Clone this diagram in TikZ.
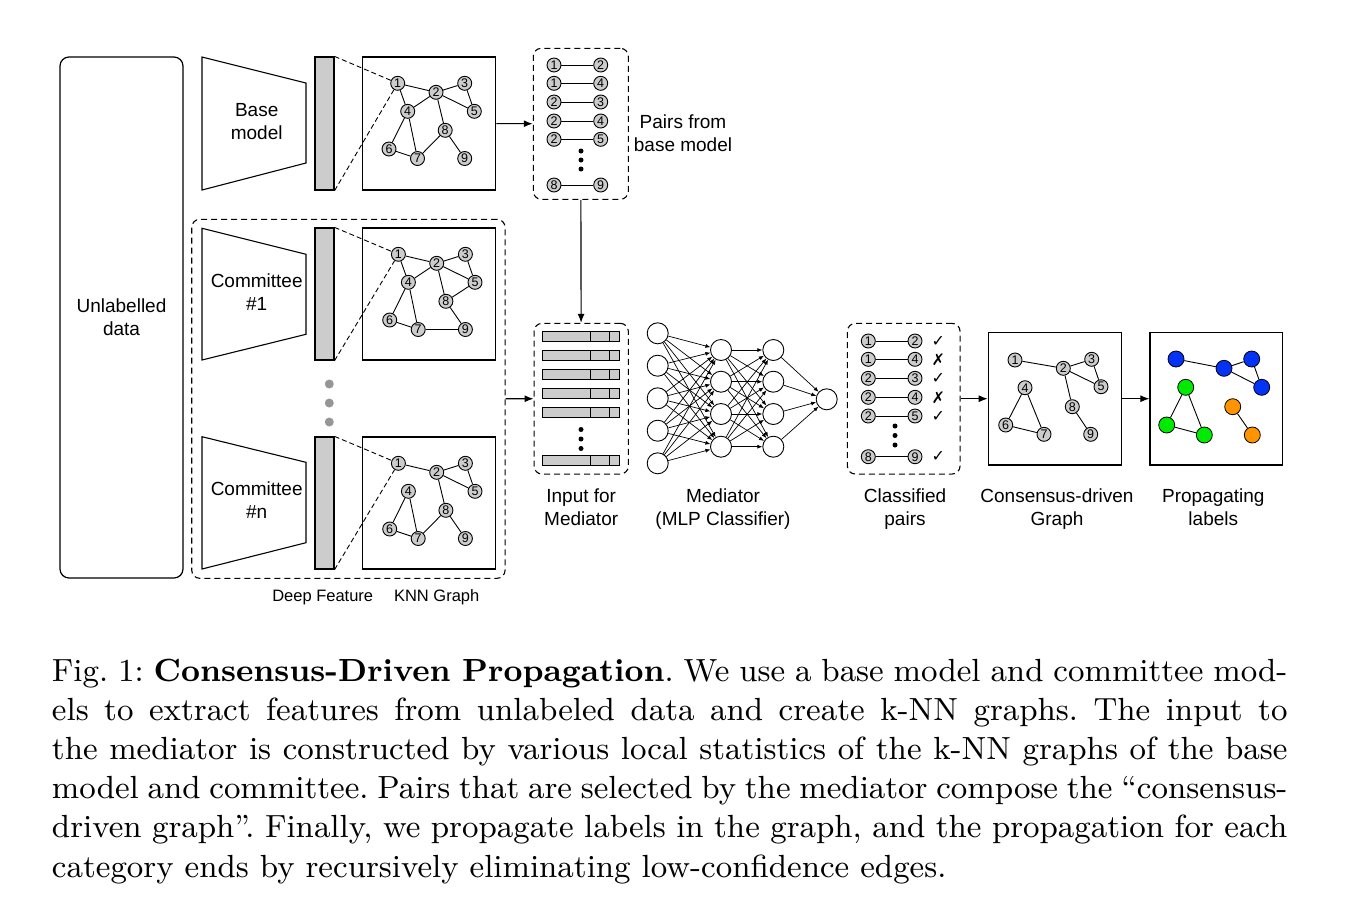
\documentclass[tikz,border=0pt]{standalone}
\usepackage{fontspec}
\newfontfamily\diagfont{Liberation Sans}
\newfontfamily\symbfont{DejaVu Sans}
\usetikzlibrary{positioning,arrows.meta}
\definecolor{nodegray}{RGB}{204,204,204}
\definecolor{dotgray}{RGB}{150,150,150}
\definecolor{propblue}{RGB}{5,51,245}
\definecolor{propgreen}{RGB}{0,235,0}
\definecolor{proporange}{RGB}{255,147,0}
\tikzset{%
  knn node/.style={
    circle,
    draw,
    fill=nodegray,
    line width=0.9pt,
    inner sep=0pt,
    minimum size=14pt,
    font=\diagfont\fontsize{12.5}{12.5}\selectfont
  },
  prop node/.style={circle, draw, line width=0.8pt, inner sep=0pt, minimum size=16pt},
  mlp node/.style={circle, draw, line width=0.9pt, inner sep=0pt, minimum size=21pt},
  plain box/.style={draw, line width=1.2pt, inner sep=0pt},
  dash frame/.style={draw, line width=1.1pt, dash pattern=on 6pt off 4pt, rounded corners=8pt, inner sep=0pt},
  feature bar/.style={draw, fill=nodegray, line width=1.2pt, minimum width=19pt, inner sep=0pt},
  box text/.style={font=\diagfont\fontsize{19}{23}\selectfont, align=center, inner sep=0pt},
  small text/.style={font=\diagfont\fontsize{16.5}{20}\selectfont, inner sep=0pt},
  tick sign/.style={font=\symbfont\fontsize{16}{16}\selectfont, inner sep=0pt},
  graph edge/.style={line width=0.9pt},
  feature link/.style={line width=0.9pt, dash pattern=on 5pt off 3pt},
  mlp arrow/.style={-{Latex[length=5pt,width=4pt]}, line width=0.7pt},
  caption text/.style={
    scale=3.5596,
    transform shape,
    text width=347.1pt,
    align=justify,
    inner sep=0pt,
    font=\fontsize{9}{11}\selectfont\frenchspacing
  },
}
% one kNN graph: prefix, shift, edges
\newcommand{\knngraph}[3]{%
  \begin{scope}[shift={#2}]
    \foreach \n/\x/\y in {1/35.7/26.3, 2/74/35.3, 3/102.7/26.3, 4/45.7/54.3, 5/112.3/54.3,
                          6/27/92, 7/55.5/101.5, 8/83.2/73.3, 9/102.7/101.5}
      \node[knn node] (#1\n) at (\x,\y) {\n};
  \end{scope}
  \foreach \a/\b in {#3} \draw[graph edge] (#1\a) -- (#1\b);
}

\begin{document}
\begin{tikzpicture}[x=1pt,y=-1pt,>={Latex[length=9pt,width=7pt]},line width=1.1pt]
        \useasboundingbox (0,0) rectangle (1346,922);

        % data and base model
        \node[plain box, box text, rounded corners=9pt, minimum width=123pt, minimum height=521pt] (data) at (121.5,317.5) {Unlabelled\\data};

        \draw (202,57) -- (306,83) -- (306,163) -- (202,190) -- cycle;
        \node[box text] (base) at (256.7,121.5) {Base\\model};
        \node[feature bar, minimum height=133pt] (base bar) at (324.5,123.5) {};
        \node[plain box, minimum width=133.5pt, minimum height=133pt] (base knn) at (429,123.5) {};
        \knngraph{b}{(362,57)}{1/2,1/4,2/4,2/3,3/5,2/5,2/8,4/6,4/7,6/7,7/8,8/9}
        \draw[feature link] (base bar.north east) -- (b1);
        \draw[feature link] (base bar.south east) -- (b1);

        % committee
        \node[dash frame, minimum width=313.3pt, minimum height=359pt] (committee) at (348.4,398.8) {};

        \draw (202,228.3) -- (306,254.3) -- (306,334.3) -- (202,360) -- cycle;
        \node[box text] (com one) at (256.7,292.2) {Committee\\\#1};
        \node[feature bar, minimum height=132pt] (com one bar) at (324.5,294) {};
        \node[plain box, minimum width=133pt, minimum height=132pt] (com one knn) at (429.2,294) {};
        \knngraph{c}{(362.7,228)}{1/2,1/4,2/3,2/5,3/5,2/4,2/8,5/8,4/6,4/7,6/7,7/9,8/9}
        \draw[feature link] (com one bar.north east) -- (c1);
        \draw[feature link] (com one bar.south east) -- (c1);

        \foreach \y in {384,403,422} \fill[dotgray] (329.3,\y) circle (4.5);

        \draw (202,436.7) -- (306,462.3) -- (306,542.7) -- (202,569) -- cycle;
        \node[box text] (com n) at (256.7,500.3) {Committee\\\#n};
        \node[feature bar, minimum height=132pt] (com n bar) at (324.5,503) {};
        \node[plain box, minimum width=133pt, minimum height=132pt] (com n knn) at (429.2,503) {};
        \knngraph{n}{(362.7,437)}{1/2,2/3,2/5,3/5,2/8,7/8,8/9,6/7,4/6,4/7}
        \draw[feature link] (com n bar.north east) -- (n1);
        \draw[feature link] (com n bar.south east) -- (n1);

        \node[small text] (deep label) at (322.7,597.5) {Deep Feature};
        \node[small text] (knn label) at (436.7,597.5) {KNN Graph};

        % pairs from base model
        \node[dash frame, minimum width=95pt, minimum height=151pt] (pairs) at (580.8,123.8) {};
        \foreach \a/\b/\y [count=\r] in {1/2/65, 1/4/83.3, 2/3/102, 2/4/121, 2/5/139.3, 8/9/185} {
            \node[knn node] (pl\r) at (554,\y) {\a};
            \node[knn node] (pr\r) at (600.7,\y) {\b};
            \draw[graph edge] (pl\r) -- (pr\r);
        }
        \foreach \y in {151,160,169} \fill (581,\y) circle (2.5);
        \node[box text] (pairs label) at (683,132.8) {Pairs from\\base model};

        % input for mediator
        \node[dash frame, minimum width=94.3pt, minimum height=150.7pt] (mediator input) at (581.2,398.7) {};
        \foreach \y in {336.7,355.7,374.3,393.3,412.3,460} {
            \draw[fill=nodegray, line width=0.9pt] (542.7,\y-5) rectangle (619,\y+5);
            \draw[line width=0.9pt] (590.7,\y-5) -- (590.7,\y+5) (609.3,\y-5) -- (609.3,\y+5);
        }
        \foreach \y in {429.5,439,448.5} \fill (581,\y) circle (2.5);

        \draw[->] (base knn) -- (pairs);
        \draw[->] (pairs) -- (mediator input);
        \draw[->] (committee) -- (mediator input);

        % mediator
        \foreach \y [count=\i] in {333.3,365.7,398.3,430.7,463.3}
            \node[mlp node] (in\i) at (657.7,\y) {};
        \foreach \y [count=\i] in {350,381.7,414,446.7} {
            \node[mlp node] (h\i) at (721,\y) {};
            \node[mlp node] (g\i) at (773.3,\y) {};
        }
        \node[mlp node] (out) at (826.7,399.3) {};
        \foreach \i in {1,...,5}
            \foreach \j in {1,...,4}
                \draw[mlp arrow] (in\i) -- (h\j);
        \foreach \i in {1,...,4} {
            \foreach \j in {1,...,4}
                \draw[mlp arrow] (h\i) -- (g\j);
            \draw[mlp arrow] (g\i) -- (out);
        }

        % classified pairs
        \node[dash frame, minimum width=112.7pt, minimum height=150.7pt] (classified) at (903.7,398.7) {};
        \foreach \a/\b/\s/\y [count=\r] in {1/2/✓/341, 1/4/✗/359.3, 2/3/✓/378.3, 2/4/✗/397.3, 2/5/✓/416, 8/9/✓/456.7} {
            \node[knn node] (cl\r) at (868.3,\y) {\a};
            \node[knn node] (cr\r) at (915,\y) {\b};
            \node[tick sign] (cs\r) at (938.3,\y) {\s};
            \draw[graph edge] (cl\r) -- (cr\r);
        }
        \foreach \y in {426,435.5,445} \fill (895,\y) circle (2.5);

        % consensus-driven graph
        \node[plain box, minimum width=133.4pt, minimum height=132.7pt] (consensus) at (1055,398.7) {};
        \foreach \n/\x/\y in {1/1015/360, 2/1063.3/368.3, 3/1091.7/359.3, 4/1025/387.7, 5/1101/386.7,
                              6/1005.7/425, 7/1044/434.3, 8/1072.3/406.7, 9/1090.7/434.3}
            \node[knn node] (k\n) at (\x,\y) {\n};
        \foreach \a/\b in {1/2,2/3,3/5,2/5,2/8,8/9,4/6,4/7,6/7} \draw[graph edge] (k\a) -- (k\b);

        % propagating labels
        \node[plain box, minimum width=132.7pt, minimum height=132.7pt] (propagation) at (1216.3,398.7) {};
        \foreach \n/\x/\y/\c in {1/1176/359/propblue, 2/1224/368.3/propblue, 3/1251.7/359/propblue,
                                 4/1261.7/387.3/propblue, 5/1185.7/387.3/propgreen, 6/1166.7/425/propgreen,
                                 7/1204.3/435/propgreen, 8/1232.7/406.7/proporange, 9/1252.3/435/proporange}
            \node[prop node, fill=\c] (p\n) at (\x,\y) {};
        \foreach \a/\b in {1/2,2/3,3/4,2/4,5/6,5/7,6/7,8/9} \draw[graph edge] (p\a) -- (p\b);

        \draw[->] (classified) -- (consensus);
        \draw[->] (consensus) -- (propagation);

        % labels under the pipeline
        \node[box text, below=14pt of mediator input] (input label) {Input for\\Mediator};
        \node[box text, anchor=north] (mlp label) at (723,488) {Mediator\\(MLP Classifier)};
        \node[box text, below=14pt of classified, xshift=1.3pt] (classified label) {Classified\\pairs};
        \node[box text, below=23pt of consensus, xshift=2pt] (consensus label) {Consensus-driven\\Graph};
        \node[box text, below=23pt of propagation, xshift=-3pt] (propagation label) {Propagating\\labels};

        % caption
        \begin{scope}[shift={(50,657)}]
            \node[caption text, anchor=north west] (caption) at (0,0) {Fig.~1: \textbf{Consensus-Driven Propagation}. We use a base model and committee mod-\linebreak els to extract features from unlabeled data and create k-NN graphs. The input to\linebreak the mediator is constructed by various local statistics of the k-NN graphs of the base\linebreak model and committee. Pairs that are selected by the mediator compose the “consensus-\linebreak driven graph”. Finally, we propagate labels in the graph, and the propagation for each\linebreak category ends by recursively eliminating low-confidence edges.};
        \end{scope}
    \end{tikzpicture}
\end{document}
